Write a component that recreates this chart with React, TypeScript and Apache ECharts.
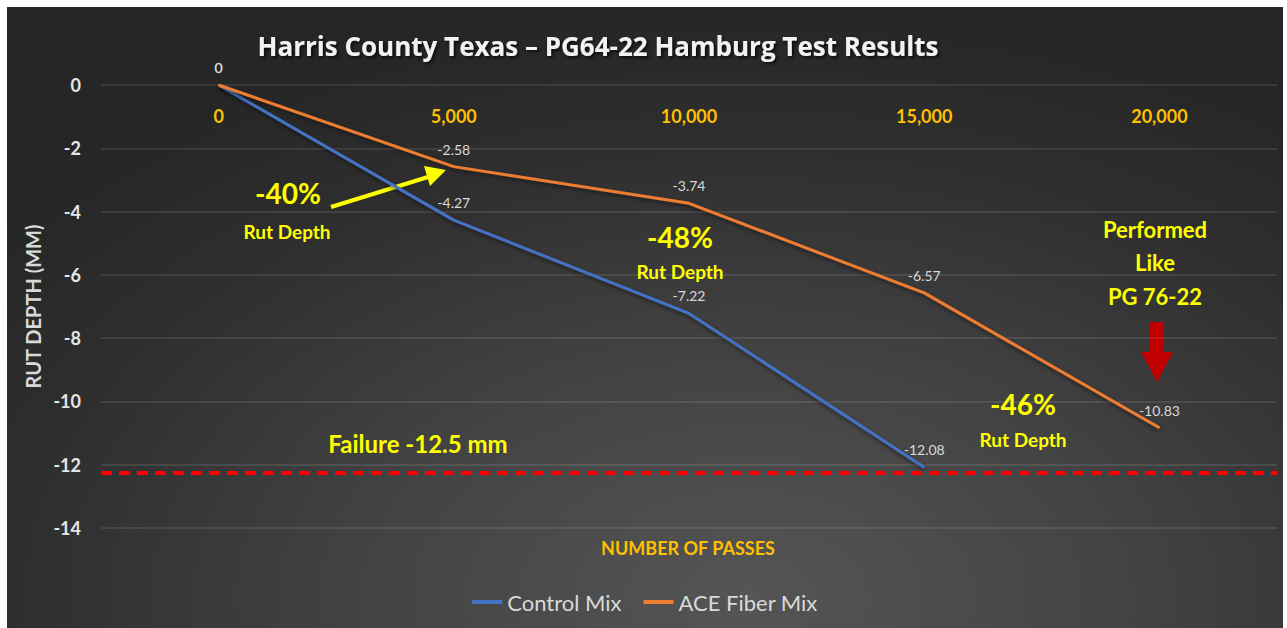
import React, { useEffect, useRef } from "react";
import * as echarts from "echarts";

const passes = ["0", "5,000", "10,000", "15,000", "20,000"];
const controlMix = [0, -4.27, -7.22, -12.08];
const aceFiberMix = [0, -2.58, -3.74, -6.57, -10.83];
const failureLevel = -12.25;
const yTicks = { min: -14, max: 0, interval: 2 };

const YELLOW = "#FFFF00";
const FONT = "Lato, 'Open Sans', sans-serif";
const OX = 7;
const OY = 7;

export default function App() {
  const ref = useRef<HTMLDivElement>(null);
  useEffect(() => {
    if (!ref.current) return;
    const chart = echarts.init(ref.current, null, { renderer: "svg" });
    const yText = (text: string, x: number, y: number, size: number) => ({
      type: "text",
      x: x - OX,
      y: y - OY,
      style: {
        text,
        fill: YELLOW,
        font: `bold ${size}px ${FONT}`,
        textAlign: "center",
        textVerticalAlign: "middle",
      },
    });
    const pts = (arr: number[][]) => arr.map(([x, y]) => [x - OX, y - OY]);
    chart.setOption({
      animation: false,
      backgroundColor: "transparent",
      title: {
        text: "Harris County Texas \u2013 PG64-22 Hamburg Test Results",
        left: 593 - OX,
        top: 21,
        textAlign: "center",
        textStyle: {
          color: "#f2f2f2",
          fontSize: 26,
          fontWeight: "bold",
          fontFamily: "'Open Sans', sans-serif",
          textShadowColor: "rgba(0,0,0,0.7)",
          textShadowBlur: 3,
          textShadowOffsetX: 2,
          textShadowOffsetY: 2,
        },
      },
      grid: { left: 94, right: 6, top: 78, bottom: 100, containLabel: false },
      legend: {
        bottom: 10,
        left: "center",
        itemWidth: 30,
        itemHeight: 4,
        itemGap: 22,
        icon: "rect",
        textStyle: { color: "#d9d9d9", fontSize: 22, fontFamily: FONT },
        data: ["Control Mix", "ACE Fiber Mix"],
      },
      xAxis: {
        type: "category",
        data: passes,
        position: "top",
        boundaryGap: true,
        axisLine: { show: false },
        axisTick: { show: false },
        axisLabel: {
          inside: true,
          margin: 22,
          color: "#FFC000",
          fontSize: 18,
          fontWeight: "bold",
          fontFamily: FONT,
        },
        splitLine: { show: false },
      },
      yAxis: {
        type: "value",
        min: yTicks.min,
        max: yTicks.max,
        interval: yTicks.interval,
        name: "RUT DEPTH (MM)",
        nameLocation: "middle",
        nameGap: 46,
        nameTextStyle: { color: "#d9d9d9", fontSize: 20, fontWeight: "bold", fontFamily: FONT },
        axisLine: { show: false },
        axisTick: { show: false },
        axisLabel: { color: "#e6e6e6", fontSize: 18, fontWeight: "bold", fontFamily: FONT, margin: 20 },
        splitLine: { show: true, lineStyle: { color: "rgba(255,255,255,0.13)", width: 1.5 } },
      },
      series: [
        {
          name: "Control Mix",
          type: "line",
          data: controlMix,
          symbol: "circle",
          symbolSize: 1,
          itemStyle: { color: "#4472C4" },
          lineStyle: { color: "#4472C4", width: 3, shadowColor: "rgba(0,0,0,0.5)", shadowBlur: 4, shadowOffsetY: 2 },
          label: { show: true, position: "top", distance: 10, color: "#d9d9d9", fontSize: 14, fontFamily: FONT },
          z: 3,
        },
        {
          name: "ACE Fiber Mix",
          type: "line",
          data: aceFiberMix,
          symbol: "circle",
          symbolSize: 1,
          itemStyle: { color: "#ED7D31" },
          lineStyle: { color: "#ED7D31", width: 3, shadowColor: "rgba(0,0,0,0.5)", shadowBlur: 4, shadowOffsetY: 2 },
          label: { show: true, position: "top", distance: 10, color: "#d9d9d9", fontSize: 14, fontFamily: FONT },
          markLine: {
            silent: true,
            symbol: "none",
            z: 10,
            label: { show: false },
            lineStyle: { color: "#FF0000", width: 4, opacity: 1, type: [11, 7] },
            emphasis: { disabled: true },
            data: [{ yAxis: failureLevel }],
          },
          z: 4,
        },
      ],
      graphic: [
        {
          type: "text",
          x: 688 - OX,
          y: 548 - OY,
          style: {
            text: "NUMBER OF PASSES",
            fill: "#FFC000",
            font: `bold 18px ${FONT}`,
            textAlign: "center",
            textVerticalAlign: "middle",
          },
        },
        yText("-40%", 288, 193, 28),
        yText("Rut Depth", 287, 231, 19),
        {
          type: "line",
          shape: { x1: 331 - OX, y1: 207 - OY, x2: 428 - OX, y2: 177 - OY },
          style: { stroke: YELLOW, lineWidth: 4 },
        },
        {
          type: "polygon",
          shape: { points: pts([[446, 170], [424, 166], [430, 186]]) },
          style: { fill: YELLOW },
        },
        yText("-48%", 680, 237, 28),
        yText("Rut Depth", 680, 271, 19),
        yText("-46%", 1023, 404, 28),
        yText("Rut Depth", 1023, 439, 19),
        yText("Performed", 1155, 229, 22),
        yText("Like", 1155, 262, 22),
        yText("PG 76-22", 1155, 296, 22),
        {
          type: "polygon",
          shape: {
            points: pts([
              [1150, 322], [1164, 322], [1164, 352], [1173, 352],
              [1157, 382], [1141, 352], [1150, 352],
            ]),
          },
          style: { fill: "#C00000" },
        },
        yText("Failure -12.5 mm", 418, 443, 24),
      ],
    });
    return () => chart.dispose();
  }, []);

  return (
    <div style={{ position: "fixed", left: 0, top: 0, width: 1287, height: 628, background: "#ffffff" }}>
      <div
        style={{
          position: "absolute",
          left: OX,
          top: OY,
          width: 1276,
          height: 621,
          background:
            "radial-gradient(ellipse 75% 95% at 58% 95%, #555555 0%, #434343 40%, #2f2f2f 75%, #262626 100%)",
        }}
      >
        <div ref={ref} style={{ width: 1276, height: 621 }} />
      </div>
    </div>
  );
}
